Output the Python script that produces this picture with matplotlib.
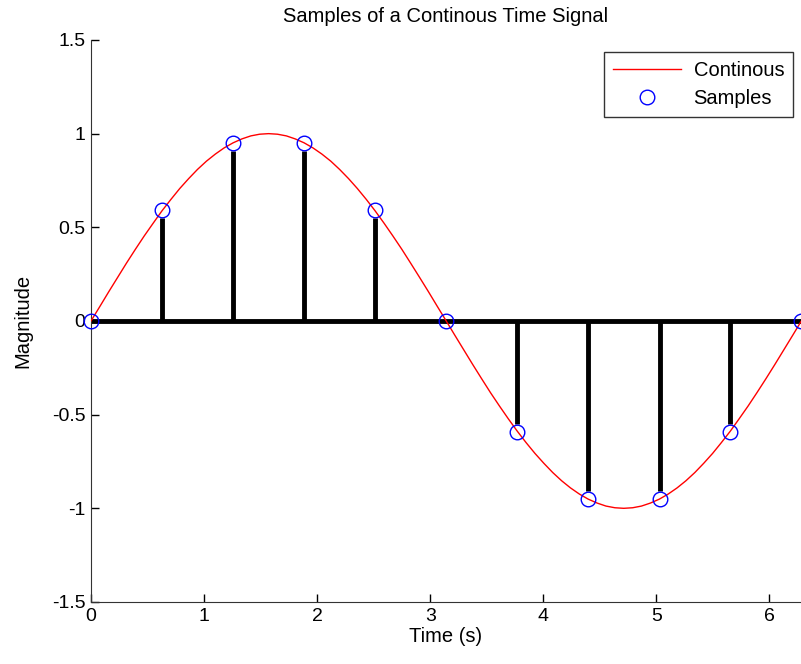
import matplotlib
matplotlib.use("Agg")
import matplotlib.pyplot as plt
import numpy as np

plt.rcParams['font.family'] = ['Liberation Sans', 'DejaVu Sans']

# continuous signal
t_cont = [0.000, 0.079, 0.157, 0.236, 0.314, 0.393, 0.471, 0.550, 0.628, 0.707,
          0.785, 0.864, 0.942, 1.021, 1.100, 1.178, 1.257, 1.335, 1.414, 1.492,
          1.571, 1.649, 1.728, 1.806, 1.885, 1.963, 2.042, 2.121, 2.199, 2.278,
          2.356, 2.435, 2.513, 2.592, 2.670, 2.749, 2.827, 2.906, 2.985, 3.063,
          3.142, 3.220, 3.299, 3.377, 3.456, 3.534, 3.613, 3.691, 3.770, 3.848,
          3.927, 4.006, 4.084, 4.163, 4.241, 4.320, 4.398, 4.477, 4.555, 4.634,
          4.712, 4.791, 4.869, 4.948, 5.027, 5.105, 5.184, 5.262, 5.341, 5.419,
          5.498, 5.576, 5.655, 5.733, 5.812, 5.890, 5.969, 6.048, 6.126, 6.205,
          6.283]
y_cont = [0.000, 0.078, 0.156, 0.233, 0.309, 0.383, 0.454, 0.522, 0.588, 0.649,
          0.707, 0.760, 0.809, 0.853, 0.891, 0.924, 0.951, 0.972, 0.988, 0.997,
          1.000, 0.997, 0.988, 0.972, 0.951, 0.924, 0.891, 0.853, 0.809, 0.760,
          0.707, 0.649, 0.588, 0.522, 0.454, 0.383, 0.309, 0.233, 0.156, 0.078,
          0.000, -0.078, -0.156, -0.233, -0.309, -0.383, -0.454, -0.522, -0.588, -0.649,
          -0.707, -0.760, -0.809, -0.853, -0.891, -0.924, -0.951, -0.972, -0.988, -0.997,
          -1.000, -0.997, -0.988, -0.972, -0.951, -0.924, -0.891, -0.853, -0.809, -0.760,
          -0.707, -0.649, -0.588, -0.522, -0.454, -0.383, -0.309, -0.233, -0.156, -0.078,
          0.000]

# samples
t_samp = [0.00, 0.63, 1.26, 1.88, 2.51, 3.14, 3.77, 4.40, 5.03, 5.65, 6.28]
y_samp = [0.00, 0.59, 0.95, 0.95, 0.59, 0.00, -0.59, -0.95, -0.95, -0.59, 0.00]
# stem lines stop just short of the circles
y_stem = [0.00, 0.55, 0.91, 0.91, 0.55, 0.00, -0.55, -0.91, -0.91, -0.55, 0.00]

x_ticks = [0, 1, 2, 3, 4, 5, 6]
y_ticks = [-1.5, -1, -0.5, 0, 0.5, 1, 1.5]
y_ticklabels = ['-1.5', '-1', '-0.5', '0', '0.5', '1', '1.5']

fig = plt.figure(figsize=(8.01, 6.64), dpi=100)
ax = fig.add_axes([0.1136, 0.0934, 0.8864, 0.8464])

ax.vlines(t_samp, 0, y_stem, colors='black', linewidth=3.5, zorder=2)
ax.axhline(0, color='black', linewidth=3.5, zorder=2)
ax.plot(t_cont, y_cont, '-', color='red', linewidth=1, label='Continous', zorder=3)
ax.plot(t_samp, y_samp, 'o', markerfacecolor='none', markeredgecolor='blue',
        markersize=10.5, markeredgewidth=1, label='Samples', zorder=4, clip_on=False)

ax.set_xlim(0, 6.28)
ax.set_ylim(-1.5, 1.5)
ax.set_xticks(x_ticks)
ax.set_yticks(y_ticks)
ax.set_yticklabels(y_ticklabels)
ax.tick_params(direction='in', length=6, width=1, labelsize=14, pad=4)

ax.spines['top'].set_visible(False)
ax.spines['right'].set_visible(False)
ax.spines['left'].set_color('#333333')
ax.spines['bottom'].set_color('#333333')

ax.set_title('Samples of a Continous Time Signal', fontsize=14.5, pad=13)
ax.set_xlabel('Time (s)', fontsize=14.5, labelpad=2)
ax.set_ylabel('Magnitude', fontsize=14.5, labelpad=14)

leg = ax.legend(loc='upper right', fontsize=14.5, fancybox=False, framealpha=1,
                edgecolor='#333333', borderpad=0.45, labelspacing=0.45,
                handlelength=3.4, handletextpad=0.6, borderaxespad=0,
                bbox_to_anchor=(0.989, 0.979))
leg.get_frame().set_linewidth(1)

fig.savefig('out.png', dpi=100)
